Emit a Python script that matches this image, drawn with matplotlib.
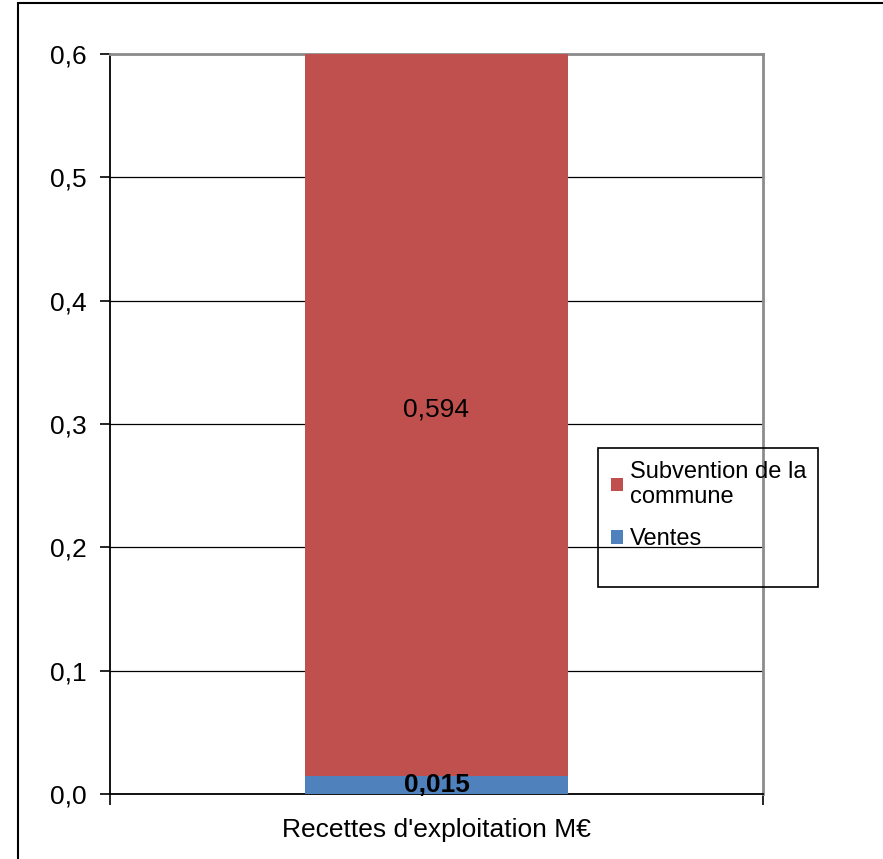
import matplotlib.pyplot as plt
from matplotlib.patches import Rectangle
from matplotlib.ticker import FuncFormatter, FixedLocator

plt.rcParams['font.family'] = ['Liberation Sans', 'DejaVu Sans']

# data
categories = ["Recettes d'exploitation M€"]
ventes = [0.015]
subvention = [0.594]
series_names = ["Subvention de la\ncommune", "Ventes"]
yticks = [0.0, 0.1, 0.2, 0.3, 0.4, 0.5, 0.6]

red = "#C0504D"
blue = "#4F81BD"

fig = plt.figure(figsize=(8.83, 8.59), dpi=100)
ax = fig.add_axes([110 / 883, 65 / 859, 653 / 883, 740 / 859])

x = range(len(categories))
b1 = ax.bar(x, ventes, width=0.403, color=blue, zorder=3)
b2 = ax.bar(x, subvention, width=0.403, bottom=ventes, color=red, zorder=3)

# value labels in the middle of each segment
for i in x:
    ax.text(i, ventes[i] / 2, f"{ventes[i]:.3f}".replace(".", ","),
            ha="center", va="center", fontsize=19, fontweight="bold", zorder=4)
    ax.text(i, ventes[i] + subvention[i] / 2, f"{subvention[i]:.3f}".replace(".", ","),
            ha="center", va="center", fontsize=19, zorder=4)

ax.set_xlim(-0.5, 0.5)
ax.set_ylim(0, 0.6)
ax.set_yticks(yticks)
ax.yaxis.set_major_formatter(FuncFormatter(lambda v, p: f"{v:.1f}".replace(".", ",")))
ax.set_xticks(list(x))
ax.set_xticklabels(categories)
ax.xaxis.set_minor_locator(FixedLocator([-0.5, 0.5]))
ax.tick_params(axis="x", which="major", length=0, pad=17, labelsize=19)
ax.tick_params(axis="x", which="minor", length=8, width=1.2, color="black", direction="out")
ax.tick_params(axis="y", length=7, width=1.2, pad=10, labelsize=19, direction="out")

ax.grid(axis="y", color="black", linewidth=0.9, zorder=1)
for s in ["left", "bottom"]:
    ax.spines[s].set_color("black")
    ax.spines[s].set_linewidth(1.3)
for s in ["top", "right"]:
    ax.spines[s].set_color("#8C8C8C")
    ax.spines[s].set_linewidth(2)

# legend, frame drawn separately to match the box size
leg = fig.legend([b2, b1], series_names, loc="upper left",
                 bbox_to_anchor=(599 / 883, 1 - 449 / 859), frameon=False,
                 fontsize=17, handlelength=0.5, handleheight=0.5,
                 handletextpad=0.3, labelspacing=0.85, borderpad=0)
fig.patches.append(Rectangle((598 / 883, 1 - 587 / 859), 220 / 883, 139 / 859,
                             transform=fig.transFigure, facecolor="none",
                             edgecolor="black", linewidth=1.2, zorder=5))

# outer chart border (only top and left are inside the picture)
fig.patches.append(Rectangle((18 / 883, -0.1), 1.2, 1.1 - 3 / 859,
                             transform=fig.transFigure, facecolor="none",
                             edgecolor="black", linewidth=1.5))

fig.savefig("out.png", dpi=100)
